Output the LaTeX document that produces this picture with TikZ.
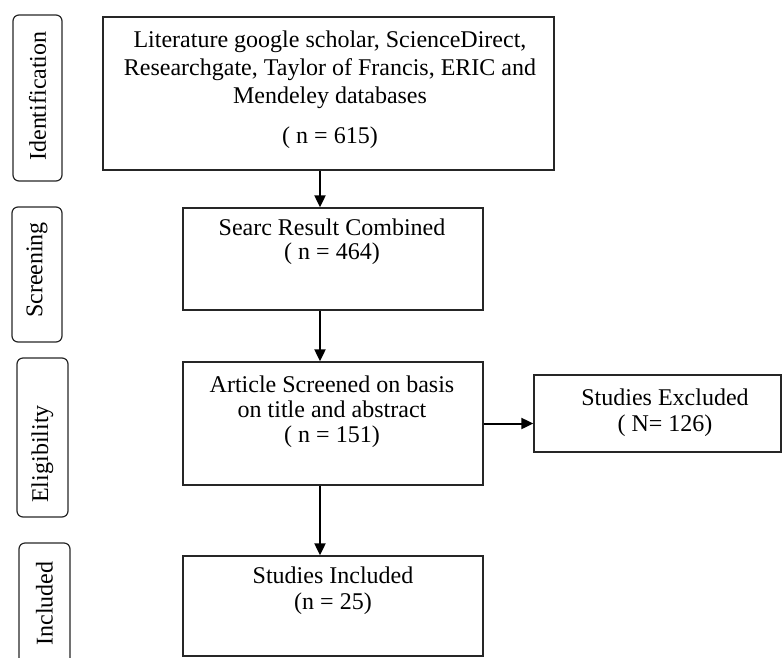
\documentclass[tikz,border=0pt]{standalone}
\usepackage{fontspec}
\setmainfont{Liberation Serif}
\usetikzlibrary{arrows.meta}
\begin{document}
\begin{tikzpicture}[x=1pt,y=-1pt,
  box/.style={draw=black!85,line width=1.3pt,inner sep=0pt,anchor=center},
  lab/.style={draw=black!85,line width=1.2pt,rounded corners=6pt,inner sep=0pt,anchor=center},
  txt/.style={anchor=base,inner sep=0pt,font=\fontsize{24}{26}\selectfont},
  rtxt/.style={anchor=center,inner sep=0pt,rotate=90,font=\fontsize{24}{26}\selectfont},
  arr/.style={line width=2pt,-{Triangle[length=12pt,width=11pt]}}]
\useasboundingbox (0,0) rectangle (782,657);
% stage labels
\node[lab,minimum width=49pt,minimum height=166pt] (lid) at (37.5,98) {};
\node[rtxt] (tid) at (37.5,96) {Identification};
\node[lab,minimum width=50pt,minimum height=135pt] (lsc) at (37,274.5) {};
\node[rtxt] (tsc) at (37,270) {Screening};
\node[lab,minimum width=51pt,minimum height=159pt] (lel) at (42.5,437.5) {};
\node[rtxt] (tel) at (42.5,454) {Eligibility};
\node[lab,minimum width=51pt,minimum height=150pt] (lin) at (44.5,618) {};
\node[rtxt] (tin) at (44.5,603.5) {Included};
% boxes
\node[box,minimum width=451pt,minimum height=153pt] (idb) at (328.5,93.5) {};
\node[txt] (i1) at (330,47) {Literature google scholar, ScienceDirect,};
\node[txt] (i2) at (330,75) {Researchgate, Taylor of Francis, ERIC and};
\node[txt] (i3) at (330,103) {Mendeley databases};
\node[txt] (i4) at (330,143) {( n = 615)};
\node[box,minimum width=300pt,minimum height=102pt] (scr) at (333,259) {};
\node[txt] (s1) at (332,235) {Searc Result Combined};
\node[txt] (s2) at (332,259) {( n = 464)};
\node[box,minimum width=300pt,minimum height=123pt] (art) at (333,423.5) {};
\node[txt] (e1) at (332,392) {Article Screened on basis};
\node[txt] (e2) at (332,417) {on title and abstract};
\node[txt] (e3) at (332,442) {( n = 151)};
\node[box,minimum width=247pt,minimum height=77pt] (exc) at (657.5,413.5) {};
\node[txt] (x1) at (665,405) {Studies Excluded};
\node[txt] (x2) at (665,431) {( N= 126)};
\node[box,minimum width=300pt,minimum height=100pt] (inc) at (333,606) {};
\node[txt] (n1) at (333,583) {Studies Included};
\node[txt] (n2) at (333,609) {(n = 25)};
% connectors
\coordinate (ax) at (320,0);
\draw[arr] (idb.south -| ax) -- (scr.north -| ax);
\draw[arr] (scr.south -| ax) -- (art.north -| ax);
\draw[arr] (art.south -| ax) -- (inc.north -| ax);
\draw[arr] (art.east) -- (art.east -| exc.west);
\end{tikzpicture}
\end{document}
